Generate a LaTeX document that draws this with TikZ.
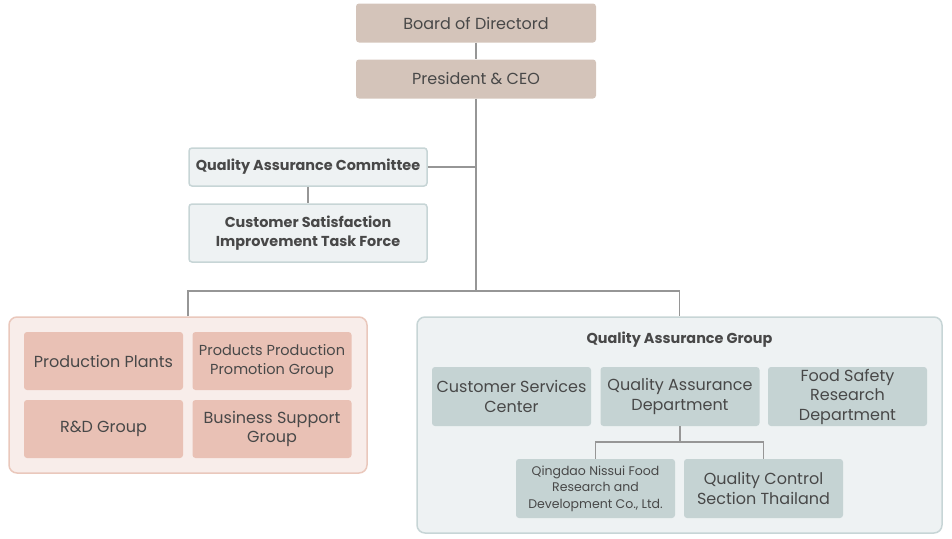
\documentclass[tikz,border=0pt]{standalone}
\usepackage{fontspec}
\setmainfont{Poppins}
\usetikzlibrary{positioning}
\definecolor{txtgray}{RGB}{72,72,72}
\definecolor{linegray}{RGB}{150,150,150}
\definecolor{topfill}{RGB}{212,196,186}
\definecolor{paleblue}{RGB}{238,242,243}
\definecolor{blueline}{RGB}{199,213,214}
\definecolor{bluefill}{RGB}{197,211,211}
\definecolor{palepink}{RGB}{248,237,234}
\definecolor{pinkline}{RGB}{234,200,188}
\definecolor{pinkfill}{RGB}{233,193,181}

\tikzset{
  box/.style={rounded corners=3pt, align=center, text=txtgray, inner sep=0pt,
              font=\fontsize{16}{19.5}\selectfont},
  topbox/.style={box, fill=topfill, minimum width=240, minimum height=39},
  cmtbox/.style={box, fill=paleblue, draw=blueline, line width=1.5pt,
                 minimum width=238, font=\fontsize{14.4}{19}\selectfont\bfseries},
  pinkbox/.style={box, fill=pinkfill, minimum width=159, minimum height=58},
  bluebox/.style={box, fill=bluefill, minimum width=159, minimum height=59},
  grpbox/.style={rounded corners=8pt, line width=1.5pt},
  conn/.style={draw=linegray, line width=1.2pt}
}

\begin{document}
\begin{tikzpicture}[x=1pt,y=-1pt]
 \useasboundingbox (0,0) rectangle (952,538);

 %top
 \foreach \name/\y/\txt in {board/23/Board of Directord, ceo/79/President \& CEO} {
        \node[topbox] (\name) at (476,\y) {\txt};
 }

 %committee
 \node[cmtbox, minimum height=38] (qac) at (308,167) {Quality Assurance Committee};
 \node[cmtbox, minimum height=58] (csitf) at (308,233) {Customer Satisfaction\\Improvement Task Force};

 %groups
 \node[grpbox, fill=palepink, draw=pinkline, minimum width=358, minimum height=156] (lgrp) at (188,395) {};
 \node[grpbox, fill=paleblue, draw=blueline, minimum width=525, minimum height=216] (rgrp) at (679.5,425) {};
 \node[text=txtgray, font=\fontsize{14.4}{19}\selectfont\bfseries] (qag) at (679.5,340) {Quality Assurance Group};

 %left group
 \foreach \name/\x/\y/\txt in {plants/103.5/361/Production Plants,
                               rnd/103.5/429/R\&D Group,
                               bsg/272/429/{Business Support\\Group}} {
        \node[pinkbox] (\name) at (\x,\y) {\txt};
 }
 \node[pinkbox, font=\fontsize{14.5}{19}\selectfont] (promo) at (272,361) {Products Production\\Promotion Group};

 %right group
 \foreach \name/\x/\txt in {csc/511.5/{Customer Services\\Center},
                            qad/680/{Quality Assurance\\Department},
                            fsrd/847.5/{Food Safety\\Research\\Department}} {
        \node[bluebox] (\name) at (\x,396.5) {\txt};
 }
 \node[bluebox, font=\fontsize{12.5}{16.5}\selectfont] (qingdao) at (595.5,488.5)
      {Qingdao Nissui Food\\Research and\\Development Co., Ltd.};
 \node[bluebox] (qcst) at (763.5,488.5) {Quality Control\\Section Thailand};

 %connectors
 \coordinate (split) at (476,291);
 \coordinate (qadsplit) at (680,442);
 \draw[conn] (board) -- (ceo);
 \draw[conn] (ceo) -- (split);
 \draw[conn] (qac.east) -- (qac.east -| split);
 \draw[conn] (qac) -- (csitf);
 \draw[conn] (lgrp.north) |- (split) -| (rgrp.north);
 \draw[conn] (qad) -- (qadsplit);
 \draw[conn] (qingdao.north) |- (qadsplit) -| (qcst.north);
\end{tikzpicture}
\end{document}
